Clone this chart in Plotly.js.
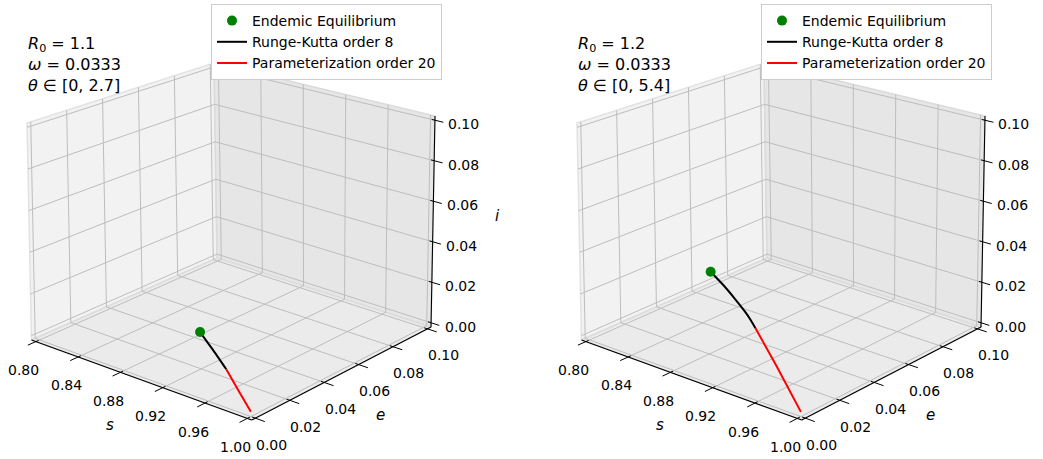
<!DOCTYPE html>
<html>
<head>
<meta charset="utf-8">
<script src="https://cdn.plot.ly/plotly-3.0.1.min.js"></script>
<style>html,body{margin:0;padding:0;background:#fff;}#chart{width:1043px;height:459px;}</style>
</head>
<body>
<div id="chart"></div>
<script>
// ================= DATA =================
const sTicks = [0.80, 0.84, 0.88, 0.92, 0.96, 1.00];
const sTickLabels = ['0.80', '0.84', '0.88', '0.92', '0.96', '1.00'];
const eTicks = [0.00, 0.02, 0.04, 0.06, 0.08, 0.10];
const eTickLabels = ['0.00', '0.02', '0.04', '0.06', '0.08', '0.10'];
const iTicks = [0.00, 0.02, 0.04, 0.06, 0.08, 0.10];
const iTickLabels = ['0.00', '0.02', '0.04', '0.06', '0.08', '0.10'];
const sRange = [0.8, 1.0];
const eRange = [0.0, 0.1];
const iRange = [0.0, 0.1];

// Panel 1: R0 = 1.1
const eq1_s = [0.909], eq1_e = [0.026], eq1_i = [0.011];
const rk1_s = [0.9537, 0.9302, 0.909];
const rk1_e = [0.0140, 0.0204, 0.026];
const rk1_i = [0.0059, 0.0086, 0.011];
const par1_s = [1.000, 0.9793, 0.9537];
const par1_e = [0.000, 0.0062, 0.0140];
const par1_i = [0.000, 0.0026, 0.0059];

// Panel 2: R0 = 1.2
const eq2_s = [0.833], eq2_e = [0.049], eq2_i = [0.0185];
const rk2_s = [0.9077, 0.8978, 0.8887, 0.8721, 0.8530, 0.833];
const rk2_e = [0.0298, 0.0329, 0.0355, 0.0398, 0.0445, 0.049];
const rk2_i = [0.0112, 0.0124, 0.0134, 0.0150, 0.0168, 0.0185];
const par2_s = [1.000, 0.9499, 0.9077];
const par2_e = [0.000, 0.0163, 0.0298];
const par2_i = [0.000, 0.0061, 0.0112];

const seriesNames = ['Endemic Equilibrium', 'Runge-Kutta order 8', 'Parameterization order 20'];
const info1 = ['<i>R</i><sub>0</sub> = 1.1', '<i>ω</i> = 0.0333', '<i>θ</i> ∈ [0, 2.7]'];
const info2 = ['<i>R</i><sub>0</sub> = 1.2', '<i>ω</i> = 0.0333', '<i>θ</i> ∈ [0, 5.4]'];

// ================= LAYOUT / VIEW (3D box frame of the axes, in page pixels) =================
const W = 1043, H = 459;
const FONT = 'DejaVu Sans, sans-serif';
const PAD = 1 / 48; // matplotlib pads the 3D box around the limits
// projected corners of the padded box: key = (s hi?)(e hi?)(i hi?)
const FRAME = {
  '000': [31.5, 340], '100': [251.7, 420], '110': [431, 327], '010': [217, 258],
  '001': [27, 123],   '101': [252, 185],   '111': [435, 116], '011': [214, 63]
};
const PANEL_DX = [0, 550];

function makeProj(dx) {
  const sl = sRange[0] - PAD * (sRange[1] - sRange[0]), sh = sRange[1] + PAD * (sRange[1] - sRange[0]);
  const el = eRange[0] - PAD * (eRange[1] - eRange[0]), eh = eRange[1] + PAD * (eRange[1] - eRange[0]);
  const il = iRange[0] - PAD * (iRange[1] - iRange[0]), ih = iRange[1] + PAD * (iRange[1] - iRange[0]);
  const f = function (s, e, i) {
    const u = (s - sl) / (sh - sl), v = (e - el) / (eh - el), w = (i - il) / (ih - il);
    let x = 0, y = 0;
    for (const a of [0, 1]) for (const b of [0, 1]) for (const c of [0, 1]) {
      const wt = (a ? u : 1 - u) * (b ? v : 1 - v) * (c ? w : 1 - w);
      const p = FRAME['' + a + b + c];
      x += wt * p[0]; y += wt * p[1];
    }
    return [x + dx, y];
  };
  f.lims = {sl, sh, el, eh, il, ih};
  return f;
}

const data = [];
const annotations = [];

function segTrace(P, segs, color, width) {
  const xs = [], ys = [];
  segs.forEach(sg => {
    const a = P(...sg[0]), b = P(...sg[1]);
    xs.push(a[0], b[0], null); ys.push(a[1], b[1], null);
  });
  return {type: 'scatter', mode: 'lines', x: xs, y: ys, showlegend: false, hoverinfo: 'skip',
          line: {color: color, width: width}};
}
function polyTrace(P, pts, fill, edge) {
  const xs = [], ys = [];
  pts.forEach(p => { const q = P(...p); xs.push(q[0]); ys.push(q[1]); });
  xs.push(xs[0]); ys.push(ys[0]);
  return {type: 'scatter', mode: 'lines', x: xs, y: ys, fill: 'toself', fillcolor: fill,
          line: {color: edge, width: 1.5}, showlegend: false, hoverinfo: 'skip'};
}

function drawPanel(k, series, info, legendId, showITitle) {
  const P = makeProj(PANEL_DX[k]);
  const L = P.lims;
  // panes
  data.push(polyTrace(P, [[L.sl, L.el, L.il], [L.sl, L.eh, L.il], [L.sl, L.eh, L.ih], [L.sl, L.el, L.ih]], '#f2f2f2', '#e2e2e2'));
  data.push(polyTrace(P, [[L.sl, L.eh, L.il], [L.sh, L.eh, L.il], [L.sh, L.eh, L.ih], [L.sl, L.eh, L.ih]], '#e6e6e6', '#dadada'));
  data.push(polyTrace(P, [[L.sl, L.el, L.il], [L.sh, L.el, L.il], [L.sh, L.eh, L.il], [L.sl, L.eh, L.il]], '#ebebeb', '#dcdcdc'));
  // grid
  const g = [];
  sTicks.forEach(s => { g.push([[s, L.el, L.il], [s, L.eh, L.il]]); g.push([[s, L.eh, L.il], [s, L.eh, L.ih]]); });
  eTicks.forEach(e => { g.push([[L.sl, e, L.il], [L.sh, e, L.il]]); g.push([[L.sl, e, L.il], [L.sl, e, L.ih]]); });
  iTicks.forEach(i => { g.push([[L.sl, L.el, i], [L.sl, L.eh, i]]); g.push([[L.sl, L.eh, i], [L.sh, L.eh, i]]); });
  data.push(segTrace(P, g, '#bdbdbd', 1));
  // axis lines
  data.push(segTrace(P, [
    [[L.sl, L.el, L.il], [L.sh, L.el, L.il]],
    [[L.sh, L.el, L.il], [L.sh, L.eh, L.il]],
    [[L.sh, L.eh, L.il], [L.sh, L.eh, L.ih]]
  ], '#000', 1.1));
  // ticks
  const t = [];
  sTicks.forEach(s => t.push([[s, L.el + 0.0015, L.il], [s, L.el - 0.0045, L.il]]));
  eTicks.forEach(e => t.push([[L.sh - 0.003, e, L.il], [L.sh + 0.009, e, L.il]]));
  iTicks.forEach(i => t.push([[L.sh - 0.003, L.eh, i], [L.sh + 0.008, L.eh, i]]));
  data.push(segTrace(P, t, '#000', 1));

  // tick labels
  const tf = {family: FONT, size: 14, color: '#000'};
  sTicks.forEach((s, j) => { const p = P(s, L.el, L.il);
    annotations.push({x: p[0] - 12, y: p[1] + 28.5, text: sTickLabels[j], showarrow: false, xanchor: 'center', yanchor: 'middle', font: tf}); });
  eTicks.forEach((e, j) => { const p = P(L.sh, e, L.il);
    annotations.push({x: p[0] + 16, y: p[1] + 26.5, text: eTickLabels[j], showarrow: false, xanchor: 'center', yanchor: 'middle', font: tf}); });
  iTicks.forEach((i, j) => { const p = P(L.sh, L.eh, i);
    annotations.push({x: p[0] + 29, y: p[1] + 4, text: iTickLabels[j], showarrow: false, xanchor: 'center', yanchor: 'middle', font: tf}); });
  // axis titles
  const af = {family: FONT, size: 15, color: '#000'};
  let p = P((sRange[0] + sRange[1]) / 2, L.el, L.il);
  annotations.push({x: p[0] - 32, y: p[1] + 45, text: '<i>s</i>', showarrow: false, font: af});
  p = P(L.sh, (eRange[0] + eRange[1]) / 2, L.il);
  annotations.push({x: p[0] + 39, y: p[1] + 41.5, text: '<i>e</i>', showarrow: false, font: af});
  if (showITitle) {
    p = P(L.sh, L.eh, (iRange[0] + iRange[1]) / 2);
    annotations.push({x: p[0] + 64, y: p[1] - 6, text: '<i>i</i>', showarrow: false, font: af});
  }

  // data series
  const proj = (S, E, I) => { const xs = [], ys = []; S.forEach((s, j) => { const q = P(s, E[j], I[j]); xs.push(q[0]); ys.push(q[1]); }); return [xs, ys]; };
  let q = proj(series.rk[0], series.rk[1], series.rk[2]);
  const rk = {type: 'scatter', mode: 'lines', x: q[0], y: q[1], name: seriesNames[1], legend: legendId,
              line: {color: '#000', width: 2, shape: 'spline', smoothing: 0.6}, legendrank: 2};
  q = proj(series.par[0], series.par[1], series.par[2]);
  const par = {type: 'scatter', mode: 'lines', x: q[0], y: q[1], name: seriesNames[2], legend: legendId,
               line: {color: '#ff0000', width: 2, shape: 'spline', smoothing: 0.5}, legendrank: 3};
  q = proj(series.eq[0], series.eq[1], series.eq[2]);
  const eq = {type: 'scatter', mode: 'markers', x: q[0], y: q[1], name: seriesNames[0], legend: legendId,
              marker: {color: '#008000', size: 10}, legendrank: 1};
  data.push(rk, par, eq);

  // info text
  annotations.push({xref: 'paper', yref: 'paper', x: (26 + PANEL_DX[k]) / W, y: 1 - 32 / H, xanchor: 'left', yanchor: 'top',
    align: 'left', showarrow: false, text: info.join('<br>'), font: {family: FONT, size: 16, color: '#000'}});
}

drawPanel(0, {eq: [eq1_s, eq1_e, eq1_i], rk: [rk1_s, rk1_e, rk1_i], par: [par1_s, par1_e, par1_i]}, info1, 'legend', true);
drawPanel(1, {eq: [eq2_s, eq2_e, eq2_i], rk: [rk2_s, rk2_e, rk2_i], par: [par2_s, par2_e, par2_i]}, info2, 'legend2', false);

function legend(x) {
  return {x: x, y: 1 - 4 / H, xanchor: 'left', yanchor: 'top', bgcolor: '#fff',
          bordercolor: '#cccccc', borderwidth: 1, font: {family: FONT, size: 14, color: '#000'},
          itemwidth: 30, tracegroupgap: 0, traceorder: 'normal'};
}

const layout = {
  width: W, height: H,
  margin: {l: 0, r: 0, t: 0, b: 0},
  paper_bgcolor: '#fff', plot_bgcolor: '#fff',
  font: {family: FONT, color: '#000'},
  showlegend: true,
  xaxis: {range: [0, W], visible: false, fixedrange: true},
  yaxis: {range: [H, 0], visible: false, fixedrange: true},
  legend: legend(211 / W),
  legend2: legend(761 / W),
  annotations: annotations
};

Plotly.newPlot('chart', data, layout, {displayModeBar: false, staticPlot: true});
</script>
</body>
</html>
